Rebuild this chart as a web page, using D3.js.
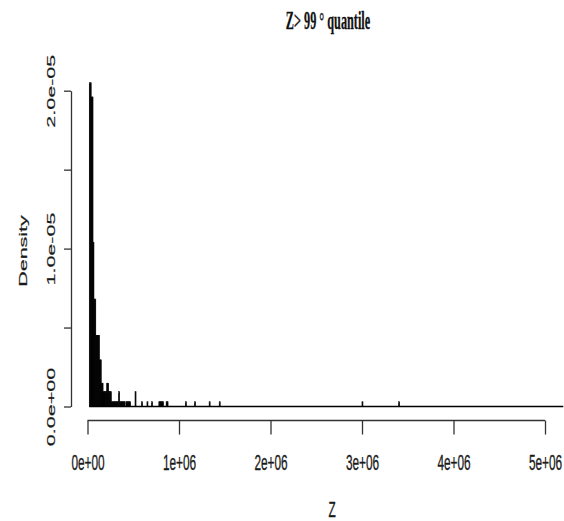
<!DOCTYPE html>
<html>
<head>
<meta charset="utf-8">
<script src="https://cdn.jsdelivr.net/npm/d3@7"></script>
<style>
  html, body { margin: 0; padding: 0; background: #fff; }
  svg { display: block; }
</style>
</head>
<body>
<svg id="chart" width="564" height="521"></svg>
<script>
// ---- data ----
const binWidth = 1e4;
const binStart = [
  2e4, 3e4, 4e4, 5e4, 6e4, 7e4, 8e4, 9e4, 10e4, 11e4, 12e4, 13e4, 14e4, 15e4, 16e4,
  17e4, 18e4, 19e4, 20e4, 21e4, 22e4, 23e4, 24e4, 25e4,
  26e4, 27e4, 28e4, 29e4, 30e4, 31e4, 32e4, 33e4, 34e4,
  35e4, 36e4, 37e4, 38e4, 39e4, 40e4, 42e4, 43e4, 44e4, 45e4, 46e4,
  52e4, 59e4, 65e4, 70e4, 78e4, 79e4, 80e4, 81e4, 82e4, 86e4, 87e4,
  107e4, 117e4, 133e4, 144e4, 300e4, 340e4
];
const density = [
  2.05e-5, 2.05e-5, 1.96e-5, 1.96e-5, 1.04e-5, 0.68e-5, 0.68e-5, 0.45e-5, 0.45e-5, 0.45e-5, 0.45e-5, 0.295e-5, 0.295e-5, 0.147e-5, 0.147e-5,
  0.094e-5, 0.094e-5, 0.094e-5, 0.094e-5, 0.147e-5, 0.147e-5, 0.094e-5, 0.094e-5, 0.094e-5,
  0.03e-5, 0.03e-5, 0.03e-5, 0.03e-5, 0.03e-5, 0.03e-5, 0.03e-5, 0.03e-5, 0.094e-5,
  0.03e-5, 0.03e-5, 0.03e-5, 0.03e-5, 0.03e-5, 0.03e-5, 0.03e-5, 0.03e-5, 0.03e-5, 0.03e-5, 0.03e-5,
  0.094e-5, 0.03e-5, 0.03e-5, 0.03e-5, 0.03e-5, 0.03e-5, 0.03e-5, 0.03e-5, 0.03e-5, 0.03e-5, 0.03e-5,
  0.03e-5, 0.03e-5, 0.03e-5, 0.03e-5, 0.03e-5, 0.03e-5
];
const breaksRange = [2e4, 5.2e6];
const xTicks = [0, 1e6, 2e6, 3e6, 4e6, 5e6];
const xTickLabels = ["0e+00", "1e+06", "2e+06", "3e+06", "4e+06", "5e+06"];
const yTicks = [0, 5e-6, 1e-5, 1.5e-5, 2e-5];
const yTickLabels = ["0.0e+00", "", "1.0e-05", "", "2.0e-05"];
const titleText = "Z> 99 \u00b0 quantile";
const xLabel = "Z";
const yLabel = "Density";

// ---- layout ----
const SQ = 0.55; // horizontal compression of glyphs seen in the reference
const svg = d3.select("#chart");
const x = d3.scaleLinear().domain([0, 5e6]).range([87.5, 545]);
const y = d3.scaleLinear().domain([0, 2e-5]).range([406.5, 90.7]);
const axisY = 420.5, axisX = 71;
const ink = "#1a1a1a";

function styleText(sel) {
  return sel.attr("font-family", "Liberation Sans, Arial, sans-serif")
    .attr("font-size", 21.5).attr("fill", ink)
    .attr("stroke", ink).attr("stroke-width", 0.35)
    .attr("text-anchor", "middle");
}

// bars
const bars = binStart.map((s, i) => ({ s, d: density[i] }));
svg.append("g").selectAll("rect").data(bars).join("rect")
  .attr("x", d => x(d.s))
  .attr("width", d => x(d.s + binWidth) - x(d.s))
  .attr("y", d => y(d.d))
  .attr("height", d => y(0) - y(d.d))
  .attr("fill", "#000").attr("stroke", "#000").attr("stroke-width", 0.7);

// baseline of empty bins
svg.append("line")
  .attr("x1", x(breaksRange[0])).attr("x2", x(breaksRange[1]))
  .attr("y1", y(0)).attr("y2", y(0))
  .attr("stroke", "#000").attr("stroke-width", 1.4);

// x axis
const gx = svg.append("g").attr("transform", `translate(0,${axisY})`)
  .call(d3.axisBottom(x).tickValues(xTicks).tickSize(14).tickSizeOuter(0).tickFormat(""));
gx.select(".domain").attr("d", `M${x(0)},0H${x(5e6)}`);
gx.selectAll("path, line").attr("stroke", "#333").attr("stroke-width", 1.3);
gx.selectAll(".tick text").remove();
styleText(gx.selectAll(".tick").append("text")
  .attr("transform", `translate(0,49.5) scale(${SQ},1)`))
  .text((d, i) => xTickLabels[i]);

// y axis
const gy = svg.append("g").attr("transform", `translate(${axisX},0)`)
  .call(d3.axisLeft(y).tickValues(yTicks).tickSize(7).tickSizeOuter(0).tickFormat(""));
gy.selectAll("path, line").attr("stroke", "#333").attr("stroke-width", 1.3);
gy.selectAll(".tick text").remove();
styleText(gy.selectAll(".tick").append("text")
  .attr("transform", `translate(-16,0) scale(${SQ},1) rotate(-90)`))
  .text((d, i) => yTickLabels[i]);

// title
svg.append("text")
  .attr("transform", `translate(328,29) scale(0.49,1)`)
  .attr("text-anchor", "middle")
  .attr("font-family", "Liberation Serif, Times New Roman, serif")
  .attr("font-weight", "bold").attr("font-size", 25).attr("fill", "#111")
  .attr("stroke", "#111").attr("stroke-width", 0.3)
  .text(titleText);

// axis titles
styleText(svg.append("text")
  .attr("transform", `translate(332,517) scale(${SQ},1)`))
  .text(xLabel);
styleText(svg.append("text")
  .attr("transform", `translate(26.5,251) scale(${SQ},1) rotate(-90)`))
  .text(yLabel);
</script>
</body>
</html>
